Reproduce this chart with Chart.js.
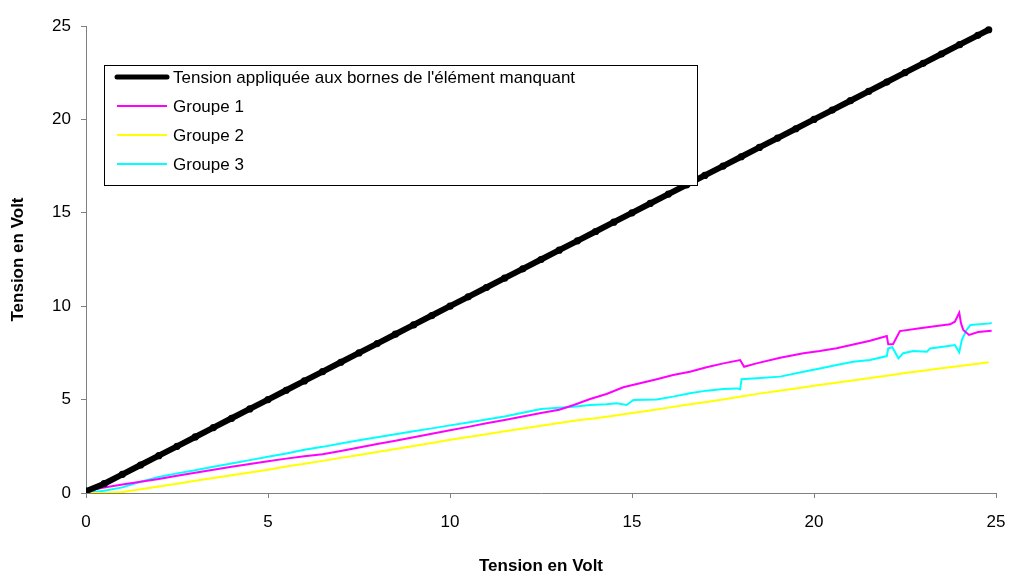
<!DOCTYPE html>
<html>
<head>
<meta charset="utf-8">
<script src="https://cdn.jsdelivr.net/npm/chart.js@4.4.1/dist/chart.umd.min.js"></script>
<style>
  body { margin: 0; background: #fff; }
  canvas { display: block; }
</style>
</head>
<body>
<canvas id="voltChart" width="1013" height="578"></canvas>
<script>
// Applied voltage (x) - also the black reference curve
var appliedX = [0, 0.5, 1, 1.5, 2, 2.5, 3, 3.5, 4, 4.5, 5, 5.5, 6, 6.5, 7, 7.5, 8, 8.5, 9, 9.5,
    10, 10.5, 11, 11.5, 12, 12.5, 13, 13.5, 14, 14.5, 15, 15.5, 16, 16.5, 17, 17.5, 18, 18.5, 19, 19.5,
    20, 20.5, 21, 21.5, 22, 22.5, 23, 23.5, 24, 24.5, 24.8];
var appliedY = [0.1, 0.5, 1, 1.5, 2, 2.5, 3, 3.5, 4, 4.5, 5, 5.5, 6, 6.5, 7, 7.5, 8, 8.5, 9, 9.5,
    10, 10.5, 11, 11.5, 12, 12.5, 13, 13.5, 14, 14.5, 15, 15.5, 16, 16.5, 17, 17.5, 18, 18.5, 19, 19.5,
    20, 20.5, 21, 21.5, 22, 22.5, 23, 23.5, 24, 24.5, 24.8];

// Groupe 1 (magenta)
var g1X = [0, 0.5, 1, 1.5, 2, 2.5, 3, 3.5, 4, 4.5, 5, 5.5, 6, 6.5, 7, 7.5, 8, 8.5, 9, 9.5,
    10, 10.5, 11, 11.5, 12, 12.5, 13, 13.4, 13.85, 14.3, 14.76, 15.22, 15.68, 16.13, 16.59, 17.05, 17.51, 17.97,
    18.08, 18.42, 19.07, 19.71, 20.16, 20.62, 21.08, 21.54, 22.0,
    22.04, 22.17, 22.36, 22.91, 23.37, 23.74, 23.87, 23.99, 24.04, 24.1, 24.26, 24.51, 24.88];
var g1Y = [0.1, 0.3, 0.45, 0.6, 0.75, 0.92, 1.08, 1.24, 1.4, 1.55, 1.7, 1.84, 1.97, 2.07, 2.25, 2.43, 2.62, 2.8, 2.99, 3.17,
    3.36, 3.54, 3.73, 3.91, 4.1, 4.28, 4.46, 4.71, 5.03, 5.3, 5.66, 5.87, 6.09, 6.32, 6.49, 6.73, 6.94, 7.12,
    6.76, 6.94, 7.24, 7.48, 7.6, 7.75, 7.95, 8.15, 8.4,
    7.96, 7.96, 8.67, 8.82, 8.94, 9.03, 9.17, 9.65, 9.08, 8.73, 8.46, 8.62, 8.68];

// Groupe 2 (yellow), same x as appliedX
var g2Y = [0, 0, 0.05, 0.2, 0.35, 0.5, 0.65, 0.8, 0.95, 1.1,
    1.25, 1.42, 1.57, 1.72, 1.88, 2.04, 2.2, 2.36, 2.52, 2.68,
    2.85, 3.0, 3.15, 3.3, 3.45, 3.6, 3.75, 3.9, 4.0, 4.13,
    4.28, 4.42, 4.57, 4.72, 4.86, 5.0, 5.16, 5.32, 5.46, 5.6,
    5.74, 5.88, 6.01, 6.14, 6.28, 6.42, 6.55, 6.68, 6.8, 6.92, 7.0];

// Groupe 3 (cyan)
var g3X = [0, 0.5, 1, 1.5, 2, 2.5, 3, 3.5, 4, 4.5, 5, 5.5, 6, 6.5, 7, 7.5, 8, 8.5, 9, 9.5,
    10, 10.5, 11, 11.5, 12, 12.5, 13,
    13.39, 13.85, 14.3, 14.58, 14.85, 15.04, 15.68, 16.13, 16.59, 17.05, 17.51, 17.88, 17.97, 18.01, 18.42, 19.07,
    19.71, 20.16, 20.62, 21.08, 21.54, 22.0, 22.04, 22.15, 22.32, 22.45, 22.73, 23.1, 23.19, 23.55, 23.87, 23.99,
    24.06, 24.19, 24.3, 24.84, 24.88];
var g3Y = [0, 0.12, 0.3, 0.6, 0.86, 1.05, 1.22, 1.4, 1.58, 1.76, 1.94, 2.12, 2.32, 2.47, 2.65, 2.82, 2.98, 3.14, 3.3, 3.46,
    3.62, 3.78, 3.94, 4.1, 4.3, 4.5, 4.56,
    4.62, 4.71, 4.75, 4.8, 4.71, 4.98, 5.01, 5.16, 5.34, 5.48, 5.57, 5.6, 5.55, 6.09, 6.14, 6.23,
    6.49, 6.67, 6.85, 7.03, 7.12, 7.33, 7.74, 7.8, 7.21, 7.48, 7.6, 7.56, 7.74, 7.83, 7.92, 7.53,
    8.19, 8.73, 9.0, 9.08, 9.12];

var seriesLabels = ["Tension appliquée aux bornes de l'élément manquant", "Groupe 1", "Groupe 2", "Groupe 3"];
var axisTicks = [0, 5, 10, 15, 20, 25];

function toPoints(xs, ys) {
    return xs.map((x, i) => ({ x: x, y: ys[i] }));
}

var fontFamily = '"Liberation Sans", Arial, sans-serif';

// Legend drawn as a framed box inside the plot area
var insideLegend = {
    id: "insideLegend",
    afterDraw(chart) {
        var ctx = chart.ctx;
        var area = chart.chartArea;
        var left = area.left + 18, top = area.top + 39, w = 593, h = 120, rowH = 29;
        ctx.save();
        ctx.fillStyle = "#fff";
        ctx.fillRect(left, top, w, h);
        ctx.strokeStyle = "#000";
        ctx.lineWidth = 1;
        ctx.strokeRect(left + 0.5, top + 0.5, w, h);
        chart.data.datasets.forEach((ds, i) => {
            var cy = top + 12 + i * rowH;
            ctx.strokeStyle = ds.borderColor;
            ctx.lineWidth = i === 0 ? 5 : 2;
            ctx.lineCap = i === 0 ? "round" : "butt";
            ctx.beginPath();
            ctx.moveTo(left + 13, cy);
            ctx.lineTo(left + 63, cy);
            ctx.stroke();
            ctx.fillStyle = "#000";
            ctx.font = "17px " + fontFamily;
            ctx.textBaseline = "middle";
            ctx.fillText(ds.label, left + 69, cy + 1);
        });
        ctx.restore();
    }
};

var axisBase = {
    type: "linear",
    min: 0,
    max: 25,
    afterBuildTicks: scale => { scale.ticks = axisTicks.map(v => ({ value: v })); },
    grid: { drawOnChartArea: false, drawTicks: true, tickLength: 5, color: "#808080" },
    border: { color: "#808080", width: 1 }
};

new Chart(document.getElementById("voltChart"), {
    type: "line",
    data: {
        datasets: [
            {
                label: seriesLabels[0],
                data: toPoints(appliedX, appliedY),
                borderColor: "#000000",
                backgroundColor: "#000000",
                borderWidth: 6,
                pointRadius: 3.6,
                pointBorderWidth: 0,
                fill: false
            },
            {
                label: seriesLabels[1],
                data: toPoints(g1X, g1Y),
                borderColor: "#FF00FF",
                borderWidth: 2,
                pointRadius: 0,
                fill: false
            },
            {
                label: seriesLabels[2],
                data: toPoints(appliedX, g2Y),
                borderColor: "#FFFF00",
                borderWidth: 2,
                pointRadius: 0,
                fill: false
            },
            {
                label: seriesLabels[3],
                data: toPoints(g3X, g3Y),
                borderColor: "#00FFFF",
                borderWidth: 2,
                pointRadius: 0,
                fill: false
            }
        ]
    },
    options: {
        responsive: false,
        animation: false,
        layout: { padding: { top: 26, right: 17, left: 0, bottom: 0 } },
        scales: {
            x: Object.assign({}, axisBase, {
                position: "bottom",
                afterFit: scale => { scale.height = 85; scale.paddingLeft = 0; scale.paddingRight = 0; },
                ticks: { color: "#000", padding: 14, font: { size: 17, family: fontFamily } },
                title: { display: true, text: "Tension en Volt", color: "#000",
                         padding: { top: 0, bottom: 1 }, font: { size: 17, weight: "bold", family: fontFamily } }
            }),
            y: Object.assign({}, axisBase, {
                position: "left",
                afterFit: scale => { scale.width = 86; scale.paddingTop = 0; scale.paddingBottom = 0; },
                ticks: { color: "#000", padding: 10, font: { size: 17, family: fontFamily } },
                title: { display: true, text: "Tension en Volt", color: "#000",
                         padding: { top: 8, bottom: 0 }, font: { size: 17, weight: "bold", family: fontFamily } }
            })
        },
        plugins: {
            legend: { display: false },
            tooltip: { enabled: false }
        }
    },
    plugins: [insideLegend]
});
</script>
</body>
</html>
